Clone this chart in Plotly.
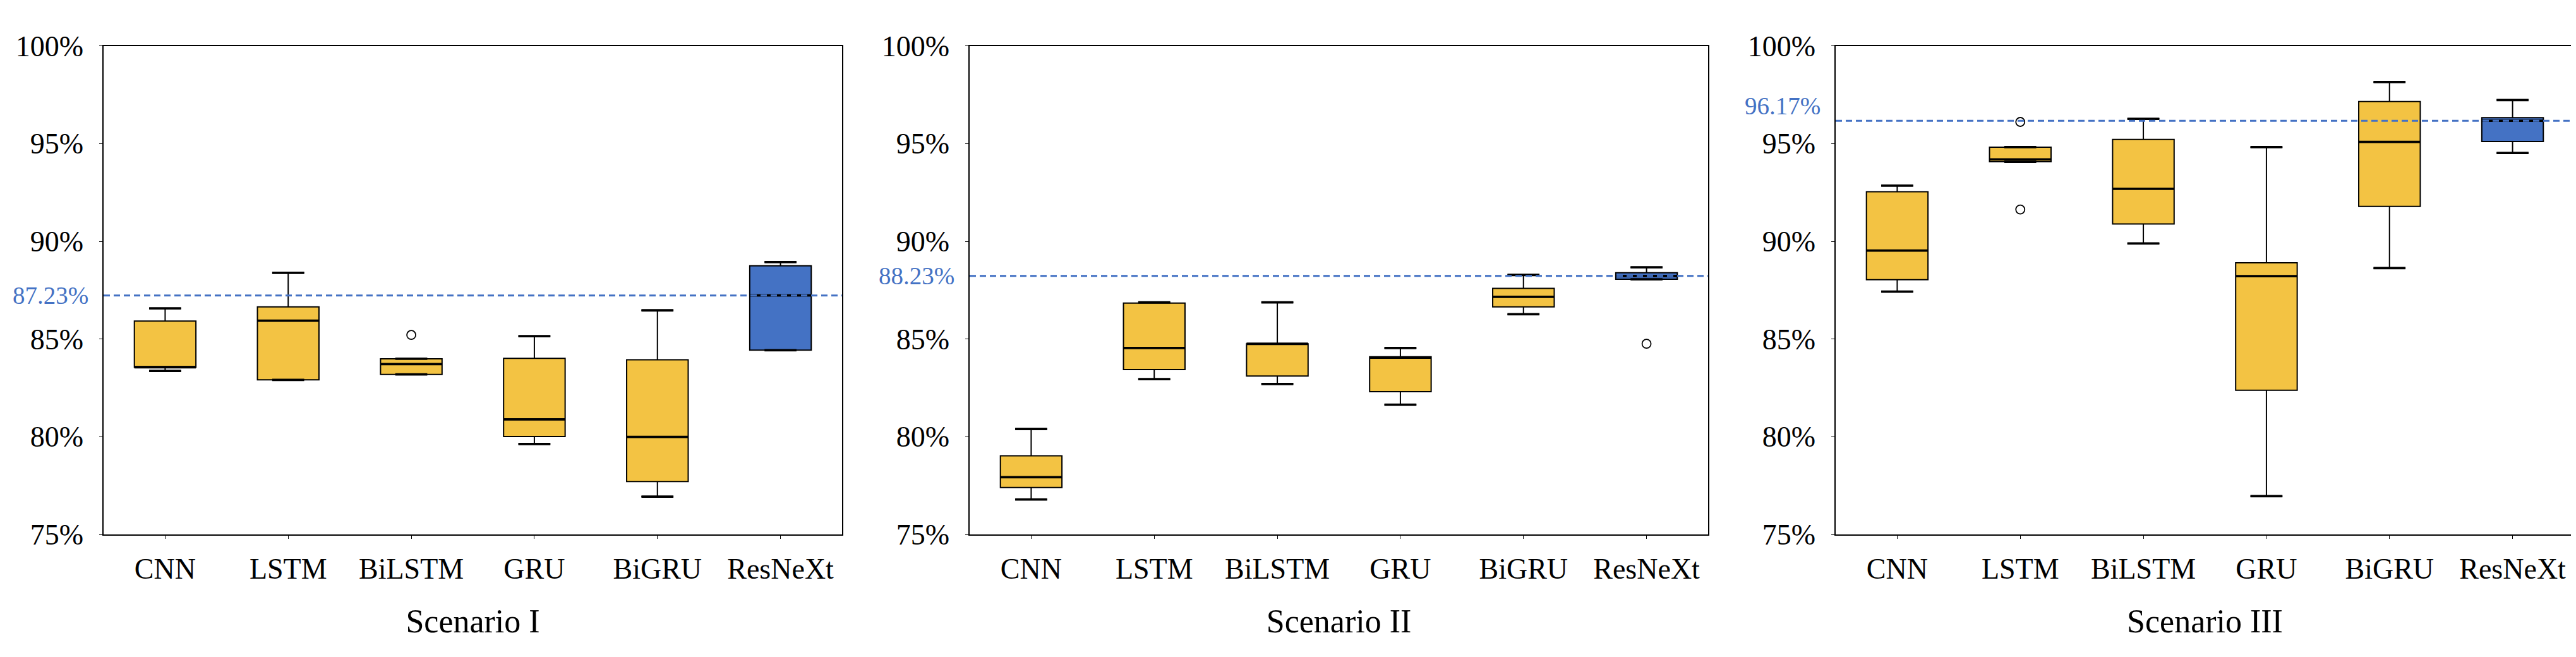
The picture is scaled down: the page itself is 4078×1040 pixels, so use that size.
import plotly.graph_objects as go

categories = ["CNN", "LSTM", "BiLSTM", "GRU", "BiGRU", "ResNeXt"]
scenario_titles = ["Scenario I", "Scenario II", "Scenario III"]
y_ticks = [75, 80, 85, 90, 95, 100]
y_tick_labels = ["75%", "80%", "85%", "90%", "95%", "100%"]

s1_min = [83.37, 82.91, 83.19, 79.63, 76.94, 84.43]
s1_q1 = [83.56, 82.91, 83.19, 80.01, 77.71, 84.43]
s1_med = [83.56, 85.94, 83.72, 80.89, 79.99, 87.23]
s1_q3 = [85.92, 86.65, 83.99, 84.01, 83.94, 88.75]
s1_max = [86.57, 88.39, 83.99, 85.15, 86.47, 88.94]
s1_out_x = ["BiLSTM"]
s1_out_y = [85.21]

s2_min = [76.79, 82.95, 82.70, 81.64, 86.27, 88.06]
s2_q1 = [77.40, 83.44, 83.11, 82.31, 86.65, 88.06]
s2_med = [77.93, 84.54, 84.76, 84.05, 87.16, 88.23]
s2_q3 = [79.03, 86.84, 84.76, 84.09, 87.59, 88.39]
s2_max = [80.40, 86.88, 86.88, 84.54, 88.28, 88.67]
s2_out_x = ["ResNeXt"]
s2_out_y = [84.76]

s3_min = [87.43, 94.07, 89.89, 76.96, 88.63, 94.52]
s3_q1 = [88.04, 94.07, 90.89, 82.38, 91.79, 95.11]
s3_med = [89.53, 94.19, 92.69, 88.22, 95.09, 96.17]
s3_q3 = [92.54, 94.82, 95.21, 88.90, 97.15, 96.33]
s3_max = [92.85, 94.82, 96.27, 94.82, 98.15, 97.23]
s3_out_x = ["LSTM", "LSTM"]
s3_out_y = [96.11, 91.63]

ref_values = [87.23, 88.23, 96.17]

scenarios = [
    (s1_min, s1_q1, s1_med, s1_q3, s1_max, s1_out_x, s1_out_y),
    (s2_min, s2_q1, s2_med, s2_q3, s2_max, s2_out_x, s2_out_y),
    (s3_min, s3_q1, s3_med, s3_q3, s3_max, s3_out_x, s3_out_y),
]

YELLOW = "#F3C343"
BLUE = "#4472C4"
FONT = "Liberation Serif"
W, H = 4078, 1040
x_domains = [[156 / W, 1325 / W], [1527 / W, 2696 / W], [2898 / W, 4067 / W]]
y_domain = [1 - 855 / H, 1 - 41.7 / H]
ref_label_shift = [0, 0, 24]
BOX_W = 0.5
CAP_HALF = 0.13

fig = go.Figure()
shapes = []
annotations = []

for k, (mn, q1, md, q3, mx, ox, oy) in enumerate(scenarios):
    xa = "x" if k == 0 else f"x{k + 1}"
    ya = "y" if k == 0 else f"y{k + 1}"
    for sl, color in [(slice(0, 5), YELLOW), (slice(5, 6), BLUE)]:
        fig.add_trace(go.Box(
            x=categories[sl], q1=q1[sl], median=md[sl], q3=q3[sl],
            lowerfence=mn[sl], upperfence=mx[sl],
            fillcolor=color, line=dict(color="black", width=2),
            width=BOX_W, whiskerwidth=2 * CAP_HALF / BOX_W,
            boxpoints=False, showlegend=False,
            xaxis=xa, yaxis=ya, hoverinfo="skip",
        ))
    fig.add_trace(go.Scatter(
        x=ox, y=oy, mode="markers",
        marker=dict(symbol="circle-open", size=14, color="black", line=dict(width=1.8)),
        showlegend=False, xaxis=xa, yaxis=ya, hoverinfo="skip",
    ))
    for i in range(len(categories)):
        shapes.append(dict(type="line", xref=xa, yref=ya,
                           x0=i - BOX_W / 2, x1=i + BOX_W / 2, y0=md[i], y1=md[i],
                           line=dict(color="black", width=3.8)))
        for v in (mn[i], mx[i]):
            shapes.append(dict(type="line", xref=xa, yref=ya,
                               x0=i - CAP_HALF, x1=i + CAP_HALF, y0=v, y1=v,
                               line=dict(color="black", width=3.8)))
    shapes.append(dict(type="line", xref=f"{xa} domain", yref=ya,
                       x0=0, x1=1, y0=ref_values[k], y1=ref_values[k],
                       line=dict(color=BLUE, width=3, dash="10px,6px")))
    annotations.append(dict(xref=f"{xa} domain", yref=ya, x=0, y=ref_values[k],
                            xanchor="right", yanchor="middle", xshift=-22,
                            yshift=ref_label_shift[k],
                            text=f"{ref_values[k]:.2f}%", showarrow=False,
                            font=dict(family=FONT, size=39, color=BLUE)))

    axis_common = dict(showline=True, linecolor="black", linewidth=1.5, mirror=True,
                       ticks="outside", tickcolor="black", ticklen=5, tickwidth=1.2,
                       showgrid=False, zeroline=False,
                       tickfont=dict(family=FONT, size=46, color="black"))
    xkey = "xaxis" if k == 0 else f"xaxis{k + 1}"
    ykey = "yaxis" if k == 0 else f"yaxis{k + 1}"
    fig.update_layout(**{
        xkey: dict(domain=x_domains[k], anchor=ya, type="category",
                   categoryorder="array", categoryarray=categories,
                   range=[-0.5, 5.5], ticklabelstandoff=8,
                   title=dict(text=scenario_titles[k], standoff=40,
                              font=dict(family=FONT, size=52, color="black")),
                   **axis_common),
        ykey: dict(domain=y_domain, anchor=xa, range=[75, 100],
                   tickmode="array", tickvals=y_ticks, ticktext=y_tick_labels,
                   ticklabelstandoff=16, **axis_common),
    })

fig.update_layout(width=W, height=H, margin=dict(l=0, r=0, t=0, b=0),
                  plot_bgcolor="white", paper_bgcolor="white",
                  shapes=shapes, annotations=annotations,
                  font=dict(family=FONT, color="black"), boxmode="overlay")

fig.write_html("out.html")
